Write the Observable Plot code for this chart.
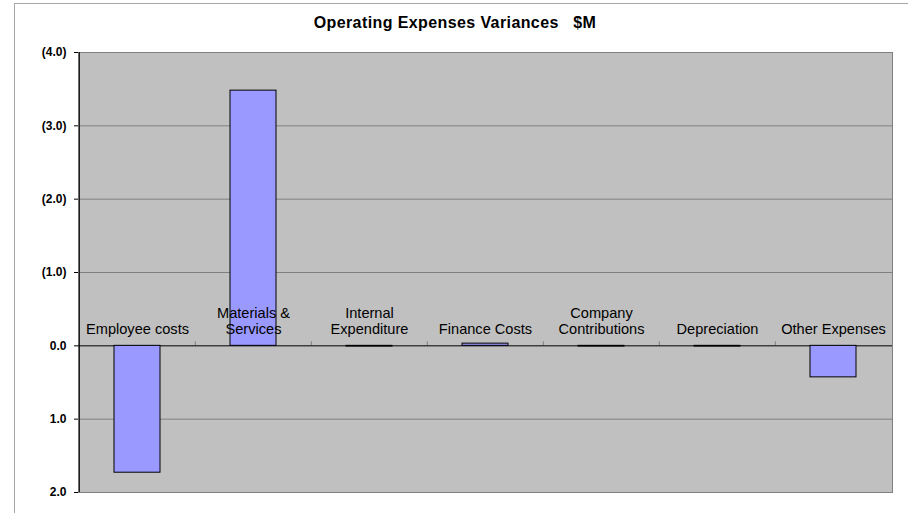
<!DOCTYPE html>
<html>
<head>
<meta charset="utf-8">
<script src="https://cdn.jsdelivr.net/npm/d3@7"></script>
<script src="https://cdn.jsdelivr.net/npm/@observablehq/plot@0.6"></script>
<style>
  html, body { margin: 0; padding: 0; background: #fff; overflow: hidden; width: 908px; height: 513px; }
  #wrap { position: relative; width: 908px; height: 513px; font-family: "Liberation Sans", Arial, sans-serif; }
  #outer { position: absolute; left: 14px; top: 3px; width: 1000px; height: 1000px; border-left: 1px solid #a6a6a6; border-top: 1px solid #a6a6a6; }
  #title { position: relative; height: 40px; line-height: 46px; text-align: center; font-weight: bold; font-size: 16px; letter-spacing: 0.4px; white-space: pre; color: #000; padding-left: 2px; box-sizing: border-box; }
  #chart { position: relative; }
</style>
</head>
<body>
<div id="wrap">
  <div id="outer"></div>
  <div id="title">Operating Expenses Variances   $M</div>
  <div id="chart"></div>
</div>
<script>
const categories = ["Employee costs", "Materials & Services", "Internal Expenditure", "Finance Costs", "Company Contributions", "Depreciation", "Other Expenses"];
const labels = ["Employee costs", "Materials &\nServices", "Internal\nExpenditure", "Finance Costs", "Company\nContributions", "Depreciation", "Other Expenses"];
const values = [1.73, -3.48, 0.01, -0.03, 0.01, 0.01, 0.43];
const yTicks = [-4, -3, -2, -1, 0, 1, 2];
const gridLines = [-3, -2, -1, 1];

const data = categories.map((c, i) => ({category: c, label: labels[i], value: values[i]}));

const W = 908, H = 473;
const mL = 78, mR = 16, mT = 12, mB = 21;
const step = (W - mL - mR) / categories.length;
const plotH = H - mT - mB;
const tickUp = -4 * (yTicks[yTicks.length - 1] - yTicks[0]) / plotH;

const fmt = v => v < 0 ? `(${Math.abs(v).toFixed(1)})` : v.toFixed(1);

const chart = Plot.plot({
  width: W,
  height: H,
  marginLeft: mL,
  marginRight: mR,
  marginTop: mT,
  marginBottom: mB,
  style: {fontFamily: "'Liberation Sans', Arial, sans-serif", background: "transparent", color: "#000"},
  x: {domain: categories, paddingInner: 0.6, paddingOuter: 0.3, axis: null},
  y: {domain: [yTicks[0], yTicks[yTicks.length - 1]], reverse: true, axis: null},
  marks: [
    Plot.frame({fill: "#c0c0c0", stroke: "#808080"}),
    Plot.ruleY(gridLines, {stroke: "#808080", strokeWidth: 1}),
    Plot.axisY({ticks: yTicks, tickFormat: fmt, tickSize: 4, tickPadding: 8, fontSize: 12, fontWeight: "bold", stroke: "#000", label: null}),
    Plot.ruleX(categories.slice(1), {x: d => d, y1: 0, y2: tickUp, dx: -step / 2, stroke: "#808080"}),
    Plot.ruleY([0], {stroke: "#000", strokeWidth: 1}),
    Plot.barY(data, {x: "category", y: "value", fill: "#9999ff", stroke: "#000", strokeWidth: 1}),
    Plot.ruleX([categories[0]], {dx: -step / 2, stroke: "#000", strokeWidth: 1}),
    Plot.text(data, {x: "category", y: 0, text: "label", lineAnchor: "bottom", dy: -12, fontSize: 14.6, lineHeight: 16 / 14.6, fill: "#000"})
  ]
});
document.getElementById("chart").appendChild(chart);
</script>
</body>
</html>
